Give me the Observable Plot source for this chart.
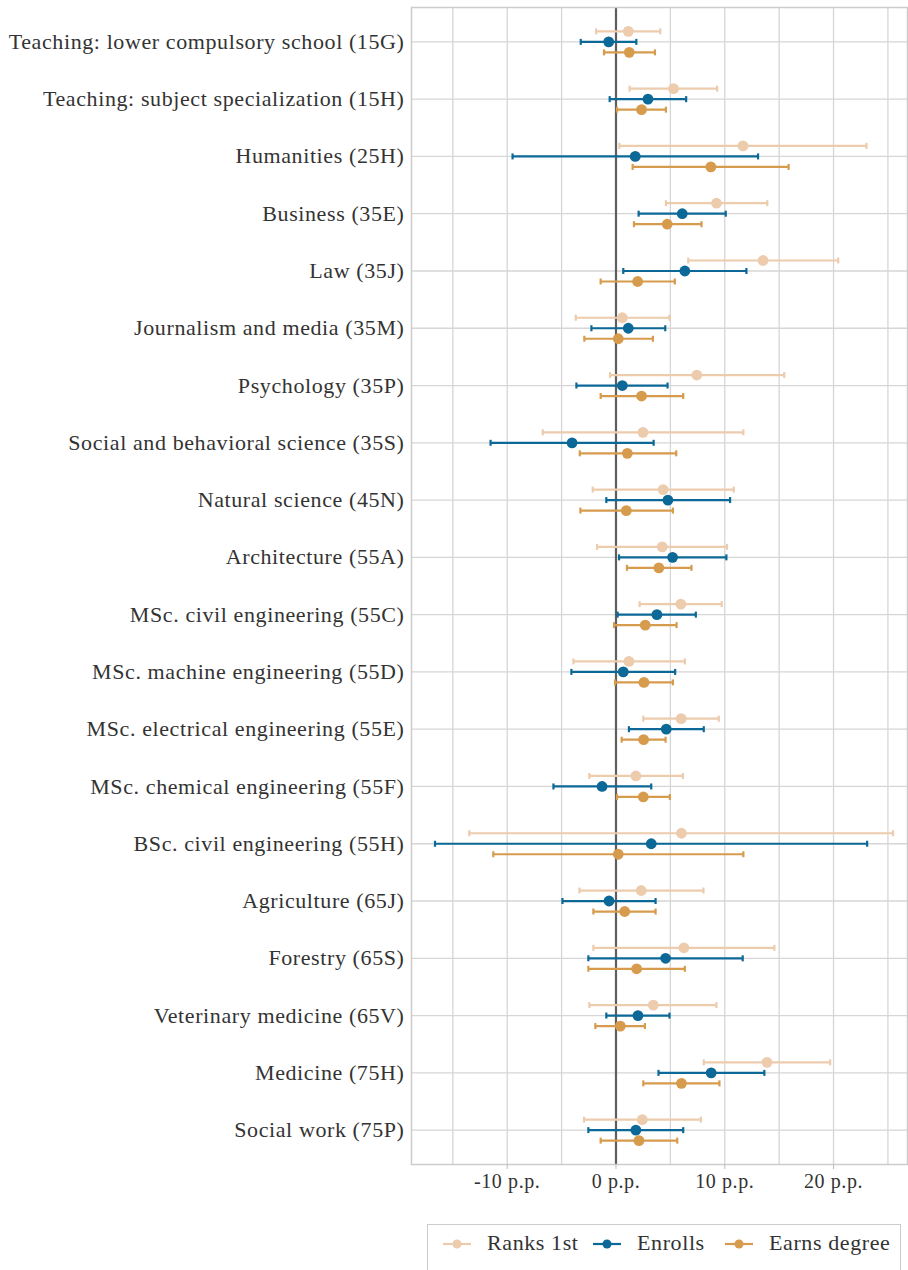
<!DOCTYPE html>
<html>
<head>
<meta charset="utf-8">
<script src="https://cdn.jsdelivr.net/npm/d3@7"></script>
<script src="https://cdn.jsdelivr.net/npm/@observablehq/plot@0.6"></script>
<style>
  html, body { margin: 0; padding: 0; background: #fff; }
  body { width: 908px; height: 1270px; position: relative; overflow: hidden; font-family: "Liberation Serif", serif; }
  #chart text { letter-spacing: 0.6px; }
  #legend { position: absolute; left: 427px; top: 1224px; width: 474px; height: 60px; border: 1.5px solid #cccccc; box-sizing: border-box; color: #333; font-size: 22px; letter-spacing: 0.6px; }
  .sym { position: absolute; top: 12px; }
  .sym svg { display: block; }
  .lab { position: absolute; top: 5px; white-space: nowrap; }
</style>
</head>
<body>
<div id="chart"></div>
<div id="legend"></div>
<script>
const categories = [
  "Teaching: lower compulsory school (15G)",
  "Teaching: subject specialization (15H)",
  "Humanities (25H)",
  "Business (35E)",
  "Law (35J)",
  "Journalism and media (35M)",
  "Psychology (35P)",
  "Social and behavioral science (35S)",
  "Natural science (45N)",
  "Architecture (55A)",
  "MSc. civil engineering (55C)",
  "MSc. machine engineering (55D)",
  "MSc. electrical engineering (55E)",
  "MSc. chemical engineering (55F)",
  "BSc. civil engineering (55H)",
  "Agriculture (65J)",
  "Forestry (65S)",
  "Veterinary medicine (65V)",
  "Medicine (75H)",
  "Social work (75P)"
];
const seriesNames = ["Ranks 1st", "Enrolls", "Earns degree"];
const seriesColors = ["#edcbad", "#0b6897", "#d79b4d"];

const ranksEst = [1.13, 5.29, 11.68, 9.24, 13.52, 0.58, 7.43, 2.48, 4.34, 4.25, 5.96, 1.19, 5.99, 1.83, 6.02, 2.32, 6.24, 3.43, 13.88, 2.42];
const ranksLo  = [-1.83, 1.25, 0.31, 4.59, 6.64, -3.70, -0.55, -6.73, -2.14, -1.74, 2.17, -3.91, 2.51, -2.45, -13.49, -3.36, -2.08, -2.45, 8.07, -2.94];
const ranksHi  = [4.07, 9.30, 23.03, 13.91, 20.43, 4.92, 15.47, 11.71, 10.83, 10.21, 9.72, 6.33, 9.45, 6.15, 25.47, 8.04, 14.56, 9.24, 19.69, 7.80];

const enrollsEst = [-0.67, 2.94, 1.77, 6.09, 6.33, 1.13, 0.58, -4.04, 4.77, 5.20, 3.76, 0.67, 4.62, -1.28, 3.24, -0.64, 4.56, 2.02, 8.75, 1.83];
const enrollsLo  = [-3.24, -0.58, -9.51, 2.08, 0.67, -2.26, -3.64, -11.53, -0.89, 0.28, 0.15, -4.10, 1.19, -5.75, -16.64, -4.92, -2.54, -0.89, 3.91, -2.54];
const enrollsHi  = [1.87, 6.45, 13.06, 10.09, 11.99, 4.53, 4.74, 3.46, 10.49, 10.15, 7.34, 5.44, 8.07, 3.24, 23.09, 3.64, 11.65, 4.92, 13.64, 6.18];

const earnsEst = [1.22, 2.35, 8.72, 4.71, 1.99, 0.21, 2.35, 1.04, 0.95, 3.94, 2.69, 2.57, 2.54, 2.51, 0.21, 0.80, 1.90, 0.40, 6.02, 2.11];
const earnsLo  = [-1.10, 0.09, 1.53, 1.65, -1.41, -2.91, -1.41, -3.33, -3.27, 1.01, -0.18, -0.09, 0.52, 0.09, -11.28, -2.08, -2.54, -1.90, 2.51, -1.41];
const earnsHi  = [3.58, 4.59, 15.87, 7.86, 5.41, 3.39, 6.18, 5.54, 5.23, 6.94, 5.57, 5.23, 4.56, 4.95, 11.71, 3.64, 6.33, 2.66, 9.51, 5.63];

const xTicks = [-10, 0, 10, 20];
const xGrid = [-15, -10, -5, 0, 5, 10, 15, 20, 25];

const seriesData = [
  {name: seriesNames[0], est: ranksEst, lo: ranksLo, hi: ranksHi, color: seriesColors[0], dy: -10.5},
  {name: seriesNames[1], est: enrollsEst, lo: enrollsLo, hi: enrollsHi, color: seriesColors[1], dy: 0},
  {name: seriesNames[2], est: earnsEst, lo: earnsLo, hi: earnsHi, color: seriesColors[2], dy: 10.5}
];

// vertical cap symbol for error bar ends
const capSymbol = {
  draw(context, size) {
    const r = Math.sqrt(size / Math.PI);
    context.moveTo(0, -r);
    context.lineTo(0, r);
  }
};

const marks = [
  Plot.ruleX(xGrid, {stroke: "#d6d6d6", strokeWidth: 1.3}),
  Plot.ruleY(categories, {y: d => d, stroke: "#d6d6d6", strokeWidth: 1.3}),
  Plot.ruleX([0], {stroke: "#5e5e5e", strokeWidth: 2.2})
];

for (const s of seriesData) {
  const rows = categories.map((c, i) => ({cat: c, est: s.est[i], lo: s.lo[i], hi: s.hi[i]}));
  marks.push(
    Plot.link(rows, {x1: "lo", x2: "hi", y1: "cat", y2: "cat", dy: s.dy, stroke: s.color, strokeWidth: 2.2}),
    Plot.dot(rows, {x: "lo", y: "cat", dy: s.dy, r: 3, symbol: capSymbol, stroke: s.color, fill: "none", strokeWidth: 2.2}),
    Plot.dot(rows, {x: "hi", y: "cat", dy: s.dy, r: 3, symbol: capSymbol, stroke: s.color, fill: "none", strokeWidth: 2.2}),
    Plot.dot(rows, {x: "est", y: "cat", dy: s.dy, r: 5.4, fill: s.color, stroke: "none"})
  );
}

marks.push(
  Plot.frame({stroke: "#cccccc", strokeWidth: 1.5}),
  Plot.axisX(xTicks, {tickSize: 5, stroke: "#bdbdbd", tickPadding: 4, fontSize: 20, fill: "#333", tickFormat: d => `${d} p.p.`}),
  Plot.axisY({tickSize: 0, tickPadding: 7, fontSize: 22, fill: "#333"})
);

const chart = Plot.plot({
  width: 908,
  height: 1212,
  marginLeft: 411,
  marginRight: 1,
  marginTop: 7,
  marginBottom: 48,
  style: {fontFamily: "Liberation Serif, serif", background: "#fff"},
  x: {domain: [-18.8, 26.8], label: null},
  y: {type: "point", domain: categories, padding: 0.6, round: false, label: null},
  marks
});
document.getElementById("chart").appendChild(chart);

const legend = document.getElementById("legend");
const symLeft = [15, 165, 297];
const labLeft = [59, 209, 341];
seriesNames.forEach((n, i) => {
  const sym = document.createElement("div");
  sym.className = "sym";
  sym.style.left = symLeft[i] + "px";
  sym.innerHTML = `<svg width="28" height="14"><line x1="0" x2="28" y1="7" y2="7" stroke="${seriesColors[i]}" stroke-width="2.2"/><circle cx="14" cy="7" r="4.5" fill="${seriesColors[i]}"/></svg>`;
  legend.appendChild(sym);
  const lab = document.createElement("div");
  lab.className = "lab";
  lab.style.left = labLeft[i] + "px";
  lab.textContent = n;
  legend.appendChild(lab);
});
</script>
</body>
</html>
